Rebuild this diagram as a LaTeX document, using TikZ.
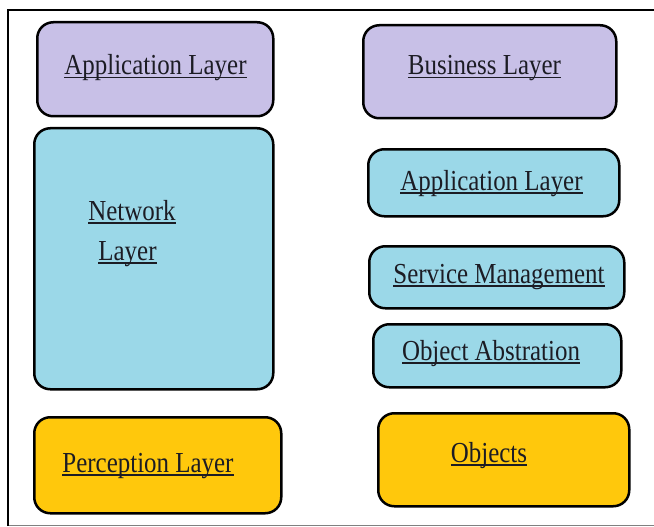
\documentclass[tikz,border=0pt]{standalone}
\usepackage{fontspec}
\setmainfont{Liberation Serif}
\newfontfamily\layerfont[FakeStretch=0.86]{Liberation Serif}
\definecolor{lpurple}{HTML}{C8C0E7}
\definecolor{lblue}{HTML}{9BD8E8}
\definecolor{lyellow}{HTML}{FFC80C}
\definecolor{txt}{HTML}{1C1C24}
\newcommand\ulx[1]{\setbox0\hbox{#1}\rlap{\rule[-3.5pt]{\wd0}{1.3pt}}\box0}
\tikzset{
  layerbox/.style={draw=black, line width=2.5pt, rounded corners=16pt, inner sep=0pt, anchor=north west},
  layertext/.style={anchor=base, inner sep=0pt, text=txt, font=\layerfont\fontsize{29}{34}\selectfont},
}
\begin{document}
\begin{tikzpicture}[x=1pt,y=-1pt]
\useasboundingbox (0,0) rectangle (654,527);
% frame
\coordinate (fTL) at (8,10);
\coordinate (fTR) at (654,10);
\coordinate (fBL) at (8,526);
\coordinate (gL) at (8,525);
\coordinate (gR) at (654,525);
\draw[line width=1pt, gray] (gL) -- (gR);
\draw[line width=2.5pt, black] (fBL) -- (fTL) -- (fTR);
% boxes
\node[layerbox, fill=lpurple, minimum width=236pt, minimum height=94pt] (appL) at (36,21) {};
\node[layerbox, fill=lpurple, minimum width=253pt, minimum height=93pt] (bus) at (362,24) {};
\node[layerbox, fill=lblue, minimum width=239pt, minimum height=261pt] (net) at (33,127) {};
\node[layerbox, fill=lblue, minimum width=251pt, minimum height=67pt] (appR) at (367,148) {};
\node[layerbox, fill=lblue, minimum width=255pt, minimum height=62pt] (svc) at (368,245) {};
\node[layerbox, fill=lblue, minimum width=248pt, minimum height=63pt] (obja) at (372,323) {};
\node[layerbox, fill=lyellow, minimum width=247pt, minimum height=96pt] (perc) at (33,416) {};
\node[layerbox, fill=lyellow, minimum width=251pt, minimum height=93pt] (objs) at (377,412) {};
% texts
\node[layertext] (tappL) at (155.5,75) {\ulx{Application Layer}};
\node[layertext] (tbus) at (484.5,75) {\ulx{Business Layer}};
\node[layertext] (tnet1) at (132,220) {\ulx{Network}};
\node[layertext] (tnet2) at (127.5,260) {\ulx{Layer}};
\node[layertext] (tappR) at (491.5,190) {\ulx{Application Layer}};
\node[layertext] (tsvc) at (499,283) {\ulx{Service Management}};
\node[layertext] (tobja) at (491,360) {\ulx{Object Abstration}};
\node[layertext] (tperc) at (148,472) {\ulx{Perception Layer}};
\node[layertext] (tobjs) at (489,462) {\ulx{Objects}};
\end{tikzpicture}
\end{document}
